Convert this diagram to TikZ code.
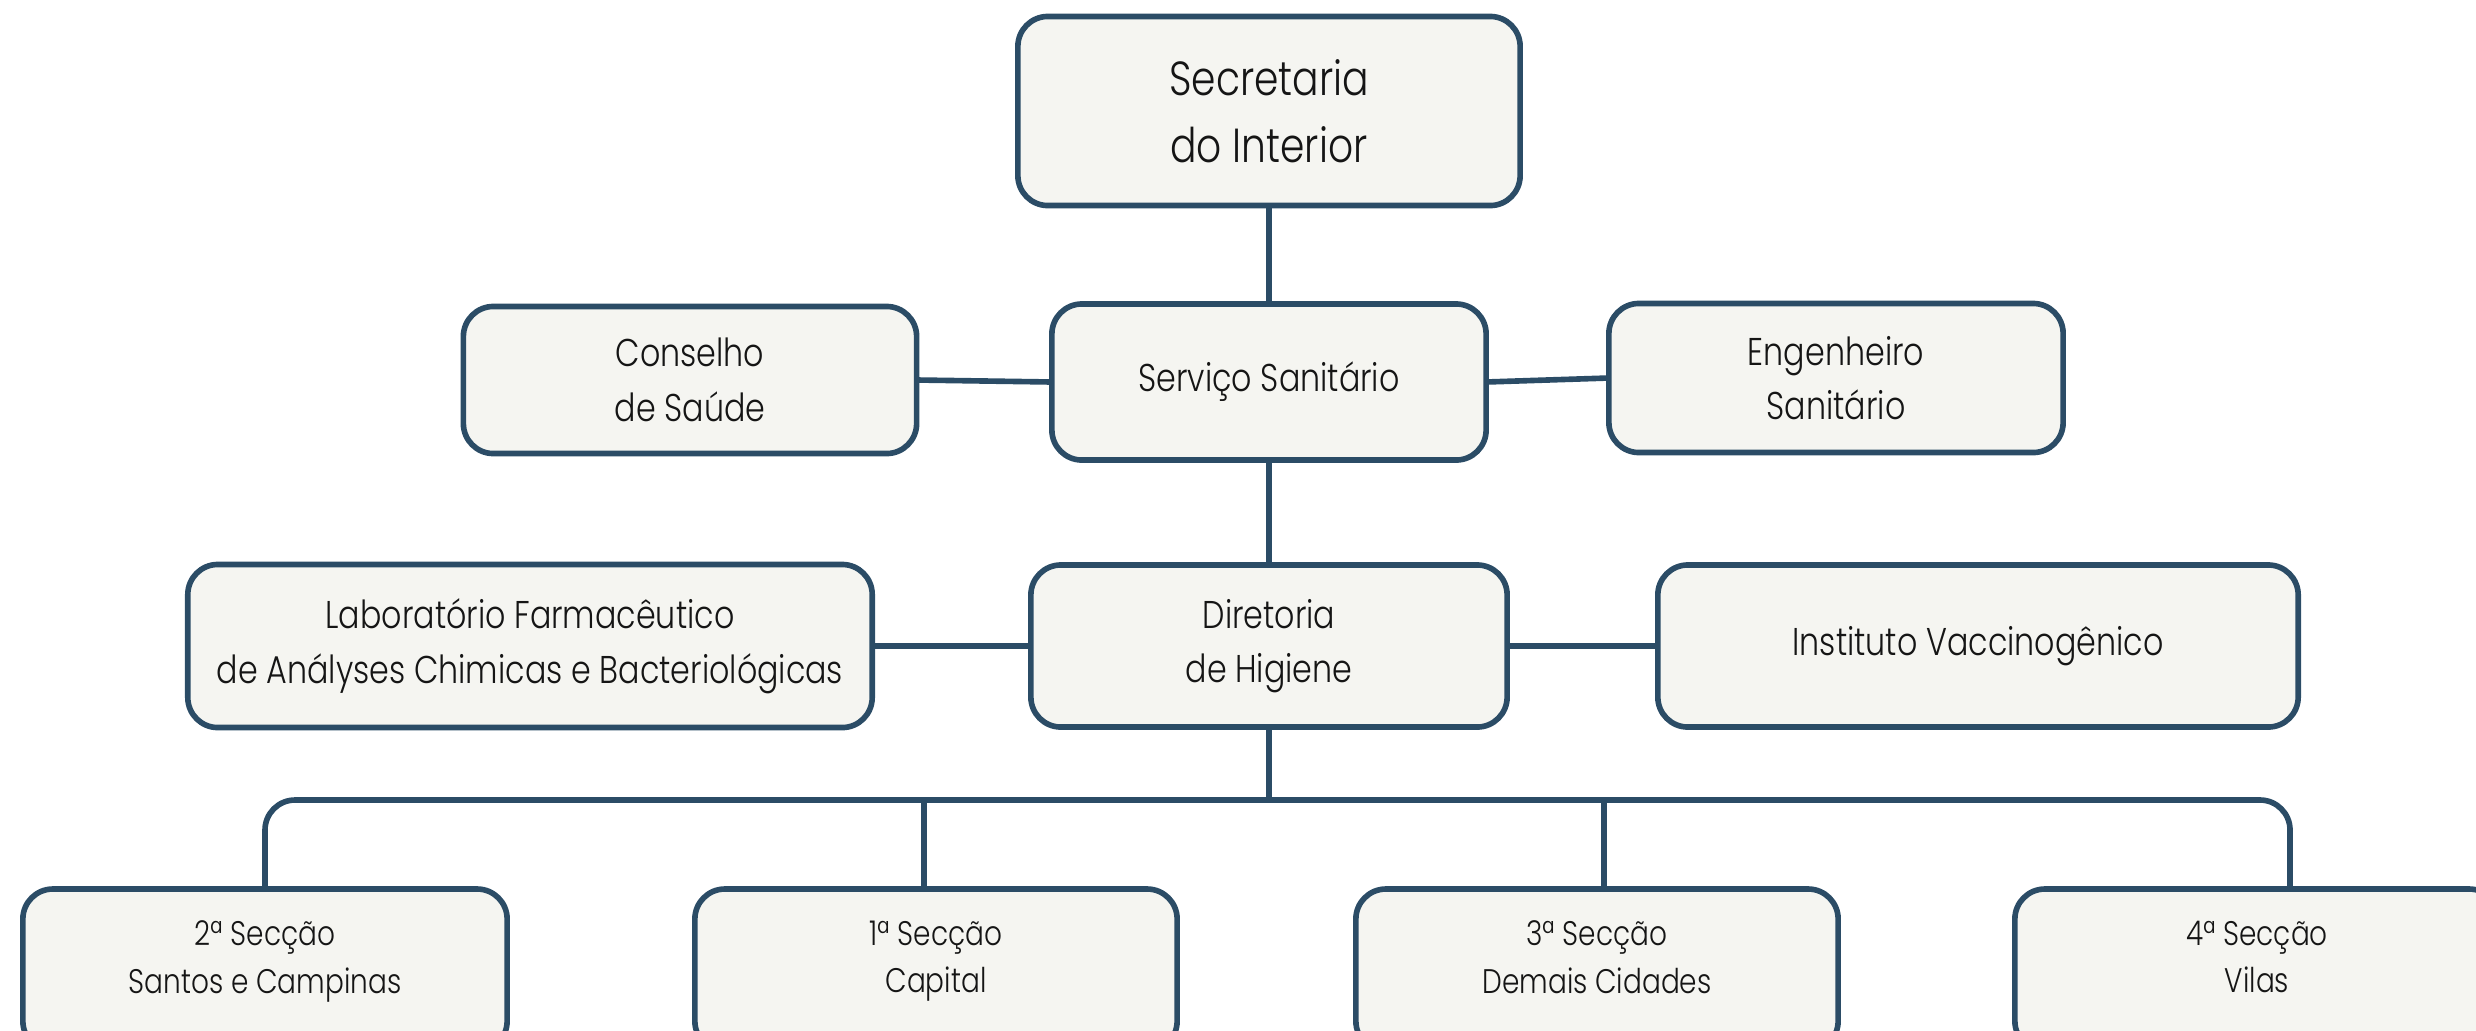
\documentclass[tikz,border=0pt]{standalone}
\usepackage{fontspec}
\setmainfont{Poppins Light}[FakeStretch=0.82]
\usepackage{tikz}
\usetikzlibrary{positioning,calc}
\definecolor{linkblue}{HTML}{2B4C66}
\definecolor{boxfill}{HTML}{F5F5F1}
\definecolor{textgray}{HTML}{151515}
\tikzset{
    % line between offices
    link/.style={
           draw=linkblue,
           line width=1.6pt,}
}
\newcommand{\boxradius}{0.3cm}

\begin{document}
\begin{tikzpicture}[x=0.01cm, y=-0.01cm, outer sep=0pt]
\tikzstyle{office}=[draw=linkblue, line width=1.6pt, rectangle, rounded corners=\boxradius, fill=boxfill, text=textgray, align=center, font=\fontsize{11}{15.5}\selectfont]
\tikzstyle{head}=[office, font=\fontsize{13.6}{19}\selectfont]
\tikzstyle{section}=[office, font=\fontsize{9.7}{13.5}\selectfont, execute at end node=\strut, text depth=7.5pt]

\useasboundingbox (0,0) rectangle (2476,1030);

\node[head, minimum width=5.02cm, minimum height=1.89cm] (secretaria) at (1269,111) {Secretaria\\do Interior};

\node[office, minimum width=4.34cm, minimum height=1.56cm] (servico) at (1269,382) {Serviço Sanitário};
\node[office, minimum width=4.53cm, minimum height=1.47cm] (conselho) at (690,380) {Conselho\\de Saúde};
\node[office, minimum width=4.54cm, minimum height=1.49cm] (engenheiro) at (1836,378) {Engenheiro\\Sanitário};

\node[office, minimum width=4.76cm, minimum height=1.62cm] (diretoria) at (1269,646) {Diretoria\\de Higiene};
\node[office, minimum width=6.84cm, minimum height=1.63cm] (laboratorio) at (530,646) {Laboratório Farmacêutico\\de Anályses Chimicas e Bacteriológicas};
\node[office, minimum width=6.40cm, minimum height=1.62cm] (instituto) at (1978,646) {Instituto Vaccinogênico};

\node[section, minimum width=4.84cm, minimum height=1.62cm, anchor=north] (secao2) at (265,889) {2ª Secção\\Santos e Campinas};
\node[section, minimum width=4.82cm, minimum height=1.62cm, anchor=north] (secao1) at (936,889) {1ª Secção\\Capital};
\node[section, minimum width=4.82cm, minimum height=1.62cm, anchor=north] (secao3) at (1597,889) {3ª Secção\\Demais Cidades};
\node[section, minimum width=4.84cm, minimum height=1.62cm, anchor=north] (secao4) at (2257,889) {4ª Secção\\Vilas};

\coordinate (bus) at (1269,800);

\draw[link] (secretaria.south) -- (servico.north);
\draw[link] (conselho.east) -- (servico.west);
\draw[link] (servico.east) -- (engenheiro.west);
\draw[link] (servico.south) -- (diretoria.north);
\draw[link] (laboratorio.east) -- (diretoria.west);
\draw[link] (diretoria.east) -- (instituto.west);

% distribution to the sections
\draw[link] (diretoria.south) -- (bus);
\draw[link, rounded corners=\boxradius] (secao2.north) |- (bus) -| ([xshift=0.33cm]secao4.north);
\draw[link] ([xshift=-0.12cm]secao1.north) |- (bus);
\draw[link] ([xshift=0.07cm]secao3.north) |- (bus);

\end{tikzpicture}
\end{document}
